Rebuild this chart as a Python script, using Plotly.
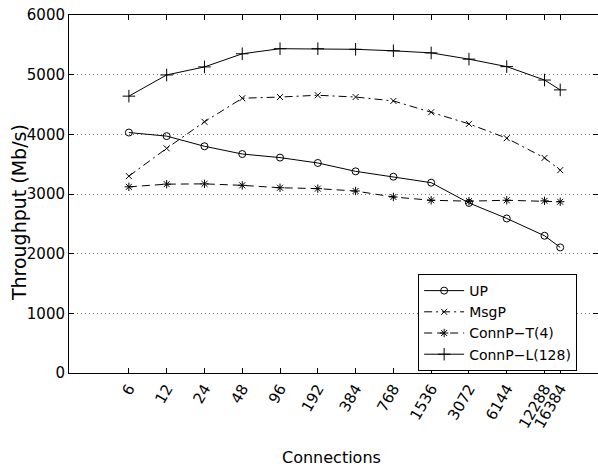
import math
import plotly.graph_objects as go

connections = [6, 12, 24, 48, 96, 192, 384, 768, 1536, 3072, 6144, 12288, 16384]
tick_labels = [str(c) for c in connections]

up = [4030, 3970, 3800, 3670, 3610, 3520, 3380, 3290, 3190, 2850, 2590, 2300, 2105]
msgp = [3300, 3765, 4210, 4605, 4625, 4655, 4625, 4560, 4370, 4175, 3935, 3605, 3400]
connp_t4 = [3120, 3165, 3170, 3145, 3105, 3090, 3050, 2950, 2895, 2880, 2895, 2885, 2870]
connp_l128 = [4640, 4995, 5130, 5350, 5435, 5435, 5425, 5400, 5365, 5260, 5135, 4910, 4745]

series = [
    ("UP", up, "solid", "circle-open", 7),
    ("MsgP", msgp, "8px,4px,2px,4px", "x-thin-open", 6),
    ("ConnP\u2212T(4)", connp_t4, "8px,5px", "asterisk-open", 7),
    ("ConnP\u2212L(128)", connp_l128, "solid", "cross-thin-open", 9),
]

fig = go.Figure()
for name, vals, dash, sym, size in series:
    fig.add_trace(go.Scatter(
        x=connections, y=vals, name=name, mode="lines+markers",
        line=dict(color="black", width=1, dash=dash),
        marker=dict(symbol=sym, size=size, color="black",
                    line=dict(color="black", width=1)),
    ))

fam = "DejaVu Sans, sans-serif"

fig.update_layout(
    width=598, height=469,
    margin=dict(l=69, r=0, t=15, b=96),
    paper_bgcolor="white", plot_bgcolor="white",
    font=dict(family=fam, size=15, color="black"),
    showlegend=True,
    legend=dict(
        x=0.660, y=0.2765, xanchor="left", yanchor="top",
        bordercolor="black", borderwidth=1, bgcolor="white",
        font=dict(family=fam, size=14, color="black"),
        tracegroupgap=0, itemwidth=40,
    ),
    xaxis=dict(
        type="log", range=[math.log10(2), math.log10(32768)],
        tickvals=connections, ticktext=tick_labels, tickangle=-60,
        ticks="inside", ticklen=5, tickcolor="black",
        showline=True, linecolor="black", linewidth=1, mirror="allticks",
        showgrid=False, zeroline=False, automargin=False,
        tickfont=dict(family=fam, size=15, color="black"),
    ),
    yaxis=dict(
        range=[0, 6000], tickvals=[0, 1000, 2000, 3000, 4000, 5000, 6000],
        ticks="inside", ticklen=5, tickcolor="black",
        showline=True, linecolor="black", linewidth=1, mirror="allticks",
        showgrid=True, gridcolor="#777777", griddash="1px,3px", gridwidth=1,
        zeroline=False, automargin=False, ticklabeloverflow="allow",
        tickfont=dict(family=fam, size=15, color="black"),
    ),
    annotations=[
        dict(
            text="Throughput (Mb/s)", textangle=-90, showarrow=False,
            xref="paper", yref="paper", x=-0.0955, y=0.448,
            xanchor="center", yanchor="middle",
            font=dict(family=fam, size=19, color="black"),
        ),
        dict(
            text="Connections", showarrow=False,
            xref="paper", yref="paper", x=0.496, y=-0.2374,
            xanchor="center", yanchor="middle",
            font=dict(family=fam, size=16, color="black"),
        ),
    ],
)

fig.write_html("out.html", config={"displayModeBar": False},
               post_script="document.body.style.margin='0';")
